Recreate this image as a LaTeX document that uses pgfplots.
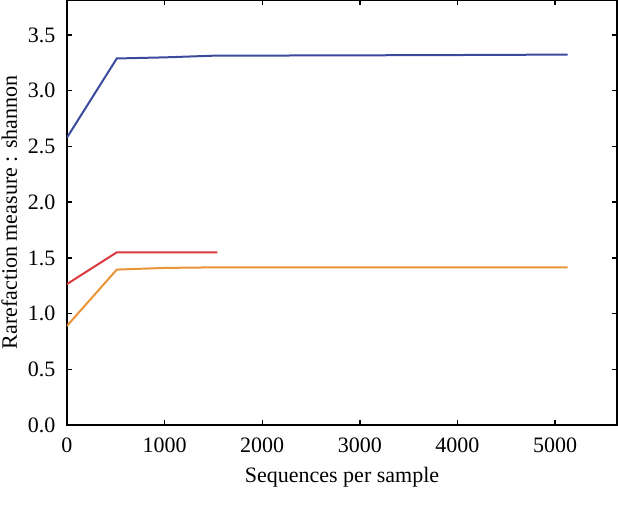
\documentclass[border=0pt]{standalone}
\usepackage{pgfplots}
\pgfplotsset{compat=1.18}
\usepackage{fontspec}
\setmainfont{Liberation Serif}
\definecolor{cblue}{HTML}{3A4A9C}
\definecolor{cred}{HTML}{D93A3F}
\definecolor{corange}{HTML}{EA9438}
\begin{document}
\begin{tikzpicture}
\begin{axis}[
  scale only axis,
  width=550pt, height=425pt,
  xmin=0, xmax=5635, ymin=0, ymax=3.815,
  xtick={0,1000,2000,3000,4000,5000},
  ytick={0,0.5,1.0,1.5,2.0,2.5,3.0,3.5},
  yticklabel style={/pgf/number format/.cd,fixed,fixed zerofill,precision=1},
  xticklabel style={/pgf/number format/.cd,1000 sep={}},
  /pgf/number format/assume math mode=true,
  tick align=inside,
  major tick length=5pt,
  tick style={black, line width=1.4pt},
  axis line style={black, line width=2pt},
  font=\fontsize{22}{26}\selectfont,
  ticklabel style={font=\fontsize{22}{26}\selectfont},
  xlabel={Sequences per sample},
  ylabel={Rarefaction measure : shannon},
  xlabel style={yshift=-8pt},
  ylabel style={yshift=4pt},
  xticklabel shift=9pt,
  yticklabel shift=8pt,
]
\addplot[cblue, line width=2pt] coordinates {(0,2.58) (510,3.29) (1000,3.30) (1500,3.315) (3700,3.32) (5130,3.325)};
\addplot[cred, line width=2pt] coordinates {(0,1.265) (510,1.55) (1000,1.55) (1540,1.55)};
\addplot[corange, line width=2pt] coordinates {(0,0.89) (510,1.395) (1000,1.41) (1500,1.415) (3700,1.415) (5130,1.415)};
\end{axis}
\pgfresetboundingbox
\path[use as bounding box] ([shift={(-67pt,-84pt)}]current axis.south west) rectangle ([shift={(1pt,0pt)}]current axis.north east);
\end{tikzpicture}
\end{document}
